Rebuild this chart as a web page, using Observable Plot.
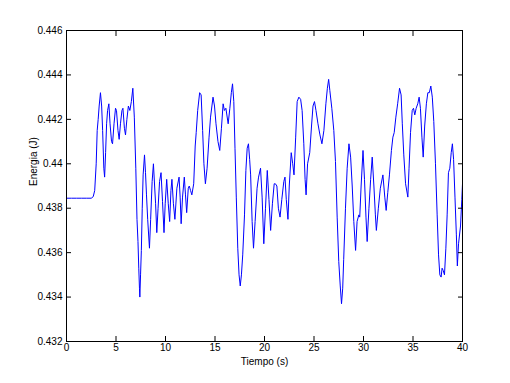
<!DOCTYPE html>
<html>
<head>
<meta charset="utf-8">
<script src="https://cdn.jsdelivr.net/npm/d3@7"></script>
<script src="https://cdn.jsdelivr.net/npm/@observablehq/plot@0.6"></script>
<style>
  html, body { margin: 0; padding: 0; background: #fff; }
  #chart svg { display: block; }
</style>
</head>
<body>
<div id="chart"></div>
<script>
const time = [
  0.0, 0.5, 1.0, 1.5, 2.0, 2.5, 2.7, 2.85, 3.0, 3.1, 3.2, 3.3, 3.43, 3.55, 3.65, 3.77, 3.85, 3.95,
  4.05, 4.15, 4.28, 4.4, 4.55, 4.65, 4.8, 4.95, 5.05, 5.2, 5.32, 5.45, 5.6, 5.7, 5.85, 5.96,
  6.1, 6.25, 6.4, 6.55, 6.7, 6.85, 7.0, 7.12, 7.22, 7.3, 7.37, 7.41, 7.48, 7.56, 7.65, 7.74, 7.88,
  7.98, 8.08, 8.2, 8.38, 8.5, 8.65, 8.78, 8.9, 9.0, 9.12, 9.25, 9.4, 9.55, 9.7, 9.85, 9.97,
  10.12, 10.28, 10.42, 10.55, 10.65, 10.8, 10.95, 11.15, 11.37, 11.48, 11.58, 11.72, 11.9, 12.02,
  12.14, 12.3, 12.4, 12.53, 12.66, 12.85, 13.0, 13.1, 13.25, 13.45, 13.6, 13.75, 13.88, 14.03,
  14.2, 14.4, 14.55, 14.8, 14.95, 15.1, 15.3, 15.48, 15.65, 15.82, 15.95, 16.1, 16.33, 16.5,
  16.65, 16.77, 16.9, 17.02, 17.15, 17.3, 17.43, 17.55, 17.67, 17.8, 17.98, 18.12, 18.25, 18.38,
  18.5, 18.6, 18.75, 18.89, 19.05, 19.25, 19.4, 19.6, 19.76, 19.93, 20.1, 20.28, 20.45, 20.62,
  20.8, 20.98, 21.1, 21.25, 21.4, 21.57, 21.75, 21.95, 22.07, 22.2, 22.37, 22.5, 22.7, 22.85,
  22.98, 23.15, 23.3, 23.47, 23.65, 23.8, 23.97, 24.1, 24.2, 24.35, 24.57, 24.75, 24.9, 25.05,
  25.2, 25.4, 25.6, 25.8, 26.0, 26.2, 26.35, 26.48, 26.6, 26.8, 27.0, 27.17, 27.34, 27.5, 27.65,
  27.78, 27.9, 28.0, 28.18, 28.35, 28.53, 28.7, 28.86, 29.02, 29.2, 29.35, 29.53, 29.62, 29.76,
  29.95, 30.1, 30.25, 30.37, 30.55, 30.72, 30.88, 31.05, 31.2, 31.3, 31.5, 31.7, 31.96, 32.15,
  32.29, 32.45, 32.62, 32.82, 32.97, 33.1, 33.27, 33.45, 33.64, 33.8, 33.92, 34.07, 34.25, 34.48,
  34.6, 34.75, 34.92, 35.05, 35.18, 35.32, 35.48, 35.62, 35.75, 35.9, 36.03, 36.18, 36.35, 36.5,
  36.65, 36.8, 36.95, 37.1, 37.27, 37.44, 37.58, 37.71, 37.84, 37.94, 38.05, 38.18, 38.32, 38.45,
  38.58, 38.72, 38.86, 38.98, 39.1, 39.24, 39.38, 39.48, 39.6, 39.8, 39.93, 40.0
];
const energy = [
  0.43845, 0.43845, 0.43845, 0.43845, 0.43845, 0.43845, 0.43852, 0.4388, 0.4400, 0.4415, 0.4420, 0.4426, 0.4432, 0.4426, 0.4415, 0.4398, 0.4394, 0.4405,
  0.4418, 0.4424, 0.4427, 0.4418, 0.4410, 0.4409, 0.4418, 0.4425, 0.4424, 0.4415, 0.4411, 0.4418, 0.4424, 0.4425, 0.4416, 0.4413,
  0.4420, 0.4426, 0.4424, 0.4428, 0.4434, 0.4421, 0.4398, 0.4375, 0.4365, 0.4353, 0.4344, 0.4340, 0.4350, 0.4361, 0.4380, 0.4395, 0.4404,
  0.4396, 0.4386, 0.4375, 0.4362, 0.4375, 0.4392, 0.4400, 0.4390, 0.4382, 0.4369, 0.4380, 0.4392, 0.4396, 0.4383, 0.4369, 0.4382,
  0.4393, 0.4382, 0.4374, 0.4388, 0.4393, 0.4382, 0.4375, 0.4389, 0.4394, 0.4385, 0.4373, 0.4385, 0.4394, 0.4386,
  0.4378, 0.4389, 0.4390, 0.4388, 0.4386, 0.4391, 0.4408, 0.4414, 0.4424, 0.4432, 0.4431, 0.4415, 0.4400, 0.4391,
  0.4398, 0.4412, 0.4421, 0.4430, 0.4426, 0.4418, 0.4410, 0.4406, 0.4416, 0.4427, 0.4424, 0.4425, 0.4418, 0.4425,
  0.4432, 0.4436, 0.4428, 0.4407, 0.4385, 0.4362, 0.4350, 0.4345, 0.4350, 0.4359, 0.4377, 0.4397, 0.4407, 0.4409,
  0.4402, 0.4395, 0.4374, 0.4362, 0.4374, 0.4389, 0.4394, 0.4398, 0.4385, 0.4364, 0.4380, 0.4397, 0.4384, 0.4370,
  0.4382, 0.4391, 0.4391, 0.4390, 0.4380, 0.4376, 0.4384, 0.4392, 0.4394, 0.4384, 0.4375, 0.4390, 0.4405, 0.4400,
  0.4395, 0.4412, 0.4428, 0.4430, 0.4429, 0.4424, 0.4409, 0.4393, 0.4386, 0.4400, 0.4405, 0.4417, 0.4426, 0.4428,
  0.4424, 0.4418, 0.4413, 0.4409, 0.4415, 0.4427, 0.4434, 0.4438, 0.4433, 0.4425, 0.4415, 0.4401, 0.4376, 0.4356, 0.4345,
  0.4337, 0.4344, 0.4357, 0.4380, 0.4398, 0.4409, 0.4403, 0.4390, 0.4374, 0.4361, 0.4374, 0.4377, 0.4376, 0.4390,
  0.4406, 0.4393, 0.4376, 0.4365, 0.4380, 0.4393, 0.4403, 0.4390, 0.4377, 0.4370, 0.4380, 0.4389, 0.4395, 0.4385,
  0.4379, 0.4387, 0.4395, 0.4406, 0.4412, 0.4414, 0.4421, 0.4427, 0.4434, 0.4431, 0.4418, 0.4404, 0.4391, 0.4385,
  0.4398, 0.4414, 0.4424, 0.4425, 0.4422, 0.4425, 0.4427, 0.4430, 0.4425, 0.4412, 0.4403, 0.4417, 0.4427, 0.4432,
  0.4432, 0.4435, 0.4430, 0.4419, 0.4400, 0.4377, 0.4359, 0.4350, 0.4349, 0.4353, 0.4352, 0.4350, 0.4362, 0.4377,
  0.4396, 0.4398, 0.4405, 0.4409, 0.4402, 0.4385, 0.4368, 0.4354, 0.4364, 0.4372, 0.4384, 0.4391
];
const xTicks = [0, 5, 10, 15, 20, 25, 30, 35, 40];
const yTicks = [0.432, 0.434, 0.436, 0.438, 0.44, 0.442, 0.444, 0.446];
const xLabel = "Tiempo (s)";
const yLabel = "Energia (J)";

const data = time.map((t, i) => ({t, e: energy[i]}));
const fmtY = d => String(+d.toFixed(3));

const chart = Plot.plot({
  width: 510,
  height: 383,
  marginLeft: 66,
  marginRight: 48,
  marginTop: 30,
  marginBottom: 42,
  style: {fontFamily: "Liberation Sans, Arial, sans-serif", fontSize: "10px", color: "#000", background: "#fff"},
  x: {domain: [0, 40], label: null},
  y: {domain: [0.432, 0.446], label: null},
  marks: [
    Plot.line(data, {x: "t", y: "e", stroke: "#0000ff", strokeWidth: 1}),
    Plot.axisX(xTicks, {anchor: "bottom", tickSize: -5, tickPadding: 7, label: null}),
    Plot.axisX(xTicks, {anchor: "top", tickSize: -5, tickFormat: () => "", label: null}),
    Plot.axisY(yTicks, {anchor: "left", tickSize: -5, tickPadding: 9, tickFormat: fmtY, label: null}),
    Plot.axisY(yTicks, {anchor: "right", tickSize: -5, tickFormat: () => "", label: null}),
    Plot.frame({stroke: "#000", strokeWidth: 1}),
    Plot.text([xLabel], {frameAnchor: "bottom", dy: 23, fill: "#000"}),
    Plot.text([yLabel], {frameAnchor: "left", dx: -33, rotate: -90, fill: "#000"})
  ]
});
document.getElementById("chart").appendChild(chart);
</script>
</body>
</html>
